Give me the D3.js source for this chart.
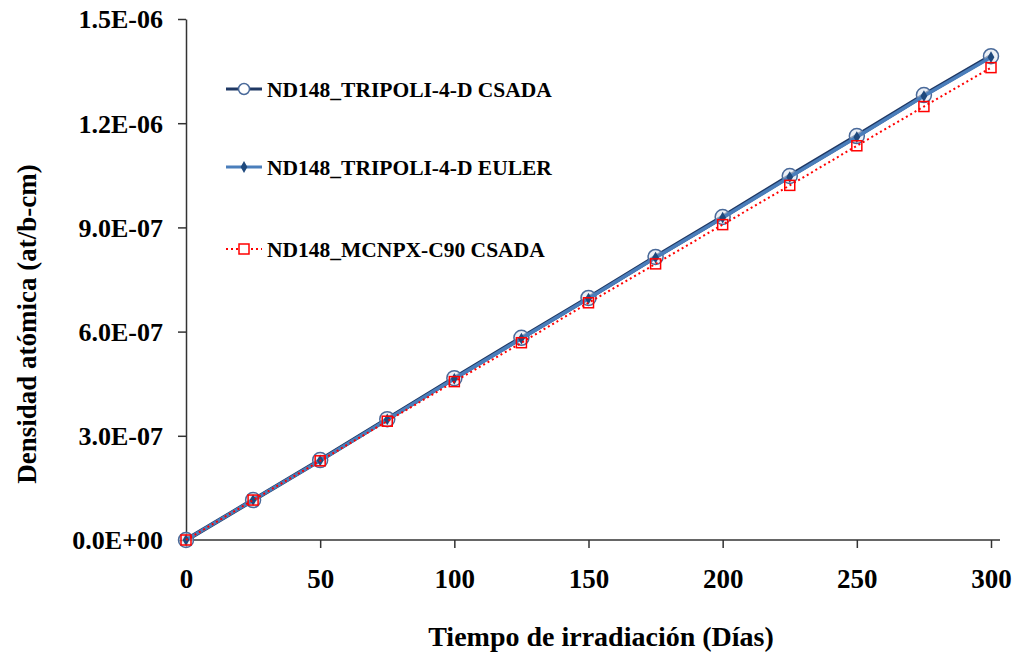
<!DOCTYPE html>
<html><head><meta charset="utf-8">
<script src="https://cdn.jsdelivr.net/npm/d3@7"></script>
<style>body{margin:0;background:#fff}svg{display:block;font-family:"Liberation Serif","Times New Roman",serif;font-weight:bold}</style>
</head><body><svg id="c" width="1017" height="656"></svg>
<script>
const days = [0,25,50,75,100,125,150,175,200,225,250,275,300];
const tripoliCsada = [0,1.15e-7,2.30e-7,3.48e-7,4.66e-7,5.82e-7,6.97e-7,8.15e-7,9.30e-7,1.048e-6,1.163e-6,1.281e-6,1.393e-6];
const tripoliEuler = [0,1.15e-7,2.29e-7,3.47e-7,4.64e-7,5.80e-7,6.95e-7,8.13e-7,9.28e-7,1.045e-6,1.160e-6,1.278e-6,1.390e-6];
const mcnpxCsada = [0,1.15e-7,2.28e-7,3.42e-7,4.56e-7,5.68e-7,6.83e-7,7.95e-7,9.08e-7,1.021e-6,1.135e-6,1.248e-6,1.360e-6];
const yTicks = [0,3e-7,6e-7,9e-7,1.2e-6,1.5e-6];
const yTickLabels = ["0.0E+00","3.0E-07","6.0E-07","9.0E-07","1.2E-06","1.5E-06"];
const xTicks = [0,50,100,150,200,250,300];
const seriesNames = ["ND148_TRIPOLI-4-D CSADA","ND148_TRIPOLI-4-D EULER","ND148_MCNPX-C90 CSADA"];

const svg = d3.select("#c");
const x = d3.scaleLinear().domain([0,300]).range([186,991]);
const y = d3.scaleLinear().domain([0,1.5e-6]).range([540,19]);

// axes
const xa = svg.append("g").attr("transform","translate(0,540)")
  .call(d3.axisBottom(x).tickValues(xTicks).tickSize(8).tickSizeOuter(0).tickPadding(14));
const ya = svg.append("g").attr("transform","translate(186,0)")
  .call(d3.axisLeft(y).tickValues(yTicks).tickSize(8).tickSizeOuter(0).tickPadding(15)
    .tickFormat((d,i)=>yTickLabels[i]));
[xa,ya].forEach(a=>{
  a.selectAll("path,line").attr("stroke","#333").attr("stroke-width",1.5);
  a.selectAll("text").attr("fill","#000").attr("font-family","Liberation Serif").attr("font-weight","bold");
});
xa.selectAll("text").attr("font-size",27).attr("dy","0.95em");
ya.selectAll("text").attr("font-size",26).attr("dy","0.34em");
xa.select(".domain").attr("d","M186,0H1000");

const line = d3.line().x((d,i)=>x(days[i])).y(d=>y(d));

// Tripoli CSADA
svg.append("path").datum(tripoliCsada).attr("d",line).attr("fill","none")
  .attr("stroke","#1F3864").attr("stroke-width",4.5);
svg.selectAll(".circ").data(tripoliCsada).join("circle")
  .attr("cx",(d,i)=>x(days[i])).attr("cy",d=>y(d)).attr("r",7.5)
  .attr("fill","#dfe6f0").attr("fill-opacity",0.6).attr("stroke","#4a6a9a").attr("stroke-width",1.5);
// Euler
svg.append("path").datum(tripoliEuler).attr("d",line).attr("fill","none")
  .attr("stroke","#4A7EBB").attr("stroke-width",3.5);
const diamond = d3.symbol().type(d3.symbolDiamond).size(40);
svg.selectAll(".dia").data(tripoliEuler).join("path")
  .attr("d",diamond).attr("transform",(d,i)=>`translate(${x(days[i])},${y(d)})`)
  .attr("fill","#1F497D");
// MCNPX
svg.append("path").datum(mcnpxCsada).attr("d",line).attr("fill","none")
  .attr("stroke","#FF0000").attr("stroke-width",2).attr("stroke-dasharray","2,3");
svg.selectAll(".sq").data(mcnpxCsada).join("rect")
  .attr("x",(d,i)=>x(days[i])-5).attr("y",d=>y(d)-5).attr("width",10).attr("height",10)
  .attr("fill","none").attr("stroke","#FF0000").attr("stroke-width",1.5);

// legend
const ly = [89,167,249];
const lg = svg.append("g");
lg.append("line").attr("x1",226).attr("x2",262).attr("y1",ly[0]).attr("y2",ly[0]).attr("stroke","#1F3864").attr("stroke-width",3);
lg.append("circle").attr("cx",244).attr("cy",ly[0]).attr("r",5.5).attr("fill","#fff").attr("stroke","#4a6a9a").attr("stroke-width",1.5);
lg.append("line").attr("x1",226).attr("x2",262).attr("y1",ly[1]).attr("y2",ly[1]).attr("stroke","#4A7EBB").attr("stroke-width",3);
lg.append("path").attr("d",diamond).attr("transform",`translate(244,${ly[1]})`).attr("fill","#1F497D");
lg.append("line").attr("x1",226).attr("x2",262).attr("y1",ly[2]).attr("y2",ly[2]).attr("stroke","#FF0000").attr("stroke-width",2).attr("stroke-dasharray","2,3");
lg.append("rect").attr("x",239).attr("y",ly[2]-5).attr("width",10).attr("height",10).attr("fill","#fff").attr("stroke","#FF0000").attr("stroke-width",1.5);
seriesNames.forEach((n,i)=>{
  lg.append("text").attr("x",267).attr("y",ly[i]).attr("dy","0.35em").attr("font-size",21.5).text(n);
});

// titles
svg.append("text").attr("x",601).attr("y",646).attr("text-anchor","middle").attr("font-size",28).text("Tiempo de irradiación (Días)");
svg.append("text").attr("transform","translate(36,324) rotate(-90)").attr("text-anchor","middle").attr("font-size",27).text("Densidad atómica (at/b-cm)");
</script></body></html>
